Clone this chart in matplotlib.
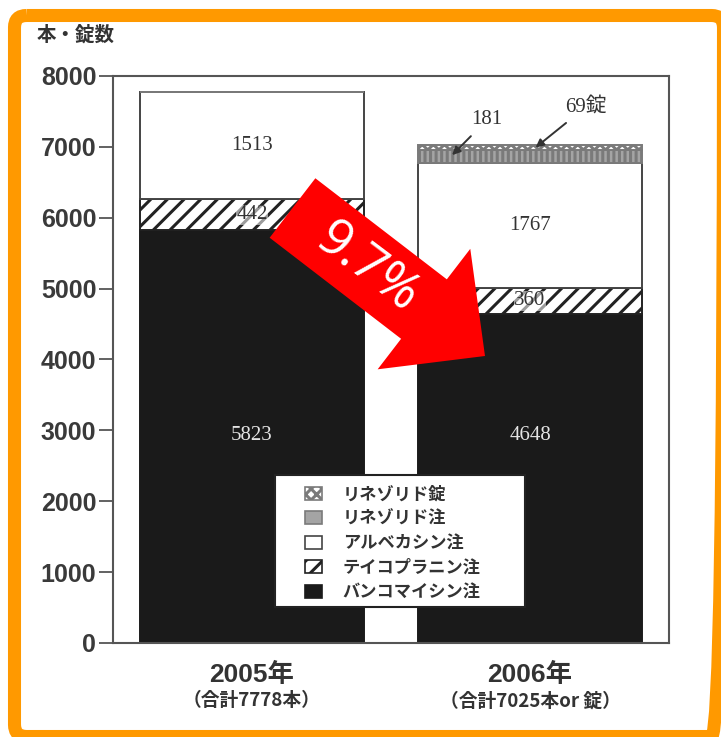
import numpy as np
import matplotlib.pyplot as plt
from matplotlib.patches import FancyArrow, FancyBboxPatch, Patch, Rectangle
from matplotlib.transforms import Affine2D, blended_transform_factory

# Datos: uso de antimicrobianos anti-MRSA (本・錠数)
years = ['2005年', '2006年']
totals = ['（合計7778本）', '（合計7025本or 錠）']
vanco = [5823, 4648]      # バンコマイシン注
teico = [442, 360]        # テイコプラニン注
arbek = [1513, 1767]      # アルベカシン注
lzd_inj = [0, 181]        # リネゾリド注
lzd_tab = [0, 69]         # リネゾリド錠
yticks = [0, 1000, 2000, 3000, 4000, 5000, 6000, 7000, 8000]
drop_text = '9.7%'

W, H = 721, 737
plt.rcParams['hatch.linewidth'] = 2.2
jp = ['Noto Sans CJK JP', 'DejaVu Sans']
num = ['Liberation Sans', 'Noto Sans CJK JP']
serif = ['Liberation Serif', 'Noto Sans CJK JP']

fig = plt.figure(figsize=(W / 100, H / 100), dpi=100)
ax = fig.add_axes([113 / W, 1 - 643 / H, 556 / W, 567 / H])
px = Affine2D().scale(1, -1).translate(0, H)  # coordenadas en píxeles desde arriba

x = np.arange(len(years))
bw = 0.806
series = [
    ('バンコマイシン注', vanco, dict(color='#1a1a1a', edgecolor='#1a1a1a')),
    ('テイコプラニン注', teico, dict(color='white', edgecolor='#222222', hatch='//')),
    ('アルベカシン注', arbek, dict(color='white', edgecolor='#444444')),
    ('リネゾリド注', lzd_inj, dict(color='#a4a4a4', edgecolor='#7a7a7a', hatch='|||')),
    ('リネゾリド錠', lzd_tab, dict(color='white', edgecolor='#7a7a7a', hatch='xxx')),
]

bottom = np.zeros(len(years))
handles = []
for name, vals, style in series:
    vals = np.array(vals, dtype=float)
    ax.bar(x, vals, bw, bottom=bottom, linewidth=1.4, **style)
    leg_style = dict(style)
    if name == 'リネゾリド注':
        leg_style.pop('hatch')
    handles.append(Patch(facecolor=leg_style['color'], edgecolor=leg_style['edgecolor'],
                         hatch=leg_style.get('hatch'), linewidth=1.2, label=name))
    # etiquetas de valor dentro de los segmentos grandes
    if name in ('バンコマイシン注', 'テイコプラニン注', 'アルベカシン注'):
        for i, v in enumerate(vals):
            if name == 'バンコマイシン注':
                yy, col = 2930, '#e4e4e4'
            else:
                yy, col = bottom[i] + v / 2, '#333333'
            bbox = dict(facecolor='white', edgecolor='none', pad=0.5, alpha=0.55) \
                if name == 'テイコプラニン注' else None
            ax.text(i, yy, f'{int(v)}', ha='center', va='center', fontsize=15,
                    family=serif, color=col, bbox=bbox)
    bottom += vals

# flechas de las cantidades pequeñas
ax.annotate(f'{lzd_inj[1]}', xy=(0.72, vanco[1] + teico[1] + arbek[1] + lzd_inj[1] * 0.6),
            xytext=(0.845, 7380), ha='center', va='center', fontsize=15,
            family=serif, color='#333333',
            arrowprops=dict(arrowstyle='-|>', color='#333333', lw=1.4,
                            mutation_scale=12, shrinkA=4, shrinkB=0))
ax.annotate(f'{lzd_tab[1]}錠', xy=(1.02, bottom[1] - lzd_tab[1] / 2),
            xytext=(1.2, 7560), ha='center', va='center', fontsize=15,
            family=serif, color='#333333',
            arrowprops=dict(arrowstyle='-|>', color='#333333', lw=1.4,
                            mutation_scale=12, shrinkA=4, shrinkB=0))

ax.set_xlim(-0.5, 1.5)
ax.set_ylim(0, 8000)
ax.set_yticks(yticks)
ax.set_yticklabels([str(t) for t in yticks], family=num, fontsize=18,
                   fontweight='bold', color='#3a3a3a')
ax.tick_params(axis='y', length=10, width=1.3, color='#555555', pad=2)
ax.set_xticks([])
for s in ax.spines.values():
    s.set_color('#555555')
    s.set_linewidth(1.5)

# etiquetas del eje x en dos líneas
tr = blended_transform_factory(ax.transData, ax.transAxes)
for i in x:
    ax.text(i, -0.056, years[i], transform=tr, ha='center', va='center',
            fontsize=19, fontweight='bold', family=num, color='#333333')
    ax.text(i, -0.102, totals[i], transform=tr, ha='center', va='center',
            fontsize=13.5, fontweight='bold', family=jp, color='#333333')

fig.text(37, 35, '本・錠数', transform=px, ha='left', va='center', fontsize=14,
         fontweight='bold', family=jp, color='#333333')

# leyenda con marco propio
ax.add_patch(Rectangle((0.291, 0.0635), 0.45, 0.2325, transform=ax.transAxes,
                       facecolor='white', edgecolor='#222222', linewidth=1.5, zorder=3))
leg = ax.legend(handles=handles[::-1], loc='upper left', bbox_to_anchor=(0.345, 0.2785),
                prop=dict(family=jp, size=12.4, weight='bold'), frameon=False,
                handlelength=1.0, handleheight=0.8, handletextpad=1.2,
                labelspacing=0.38, borderpad=0, borderaxespad=0)
leg.set_zorder(4)
for t in leg.get_texts():
    t.set_color('#333333')

# flecha roja de la disminución
start = np.array([292.5, 208.0])
tip = np.array([485.0, 356.0])
arrow = FancyArrow(start[0], start[1], *(tip - start), width=75, head_width=152,
                   head_length=77, length_includes_head=True, transform=px,
                   color='#ff0000', linewidth=0, zorder=10)
fig.add_artist(arrow)
fig.text(367, 268, drop_text, transform=px, ha='center', va='center', rotation=-37,
         rotation_mode='anchor', fontsize=37, family='Open Sans', color='white', zorder=11)

# marco naranja
frame = FancyBboxPatch((14.5, 15.5), 709, 721, boxstyle='round,pad=0,rounding_size=12',
                       transform=px, fill=False, edgecolor='#ff9900', linewidth=9.4)
fig.add_artist(frame)

fig.savefig('out.png', dpi=100)
